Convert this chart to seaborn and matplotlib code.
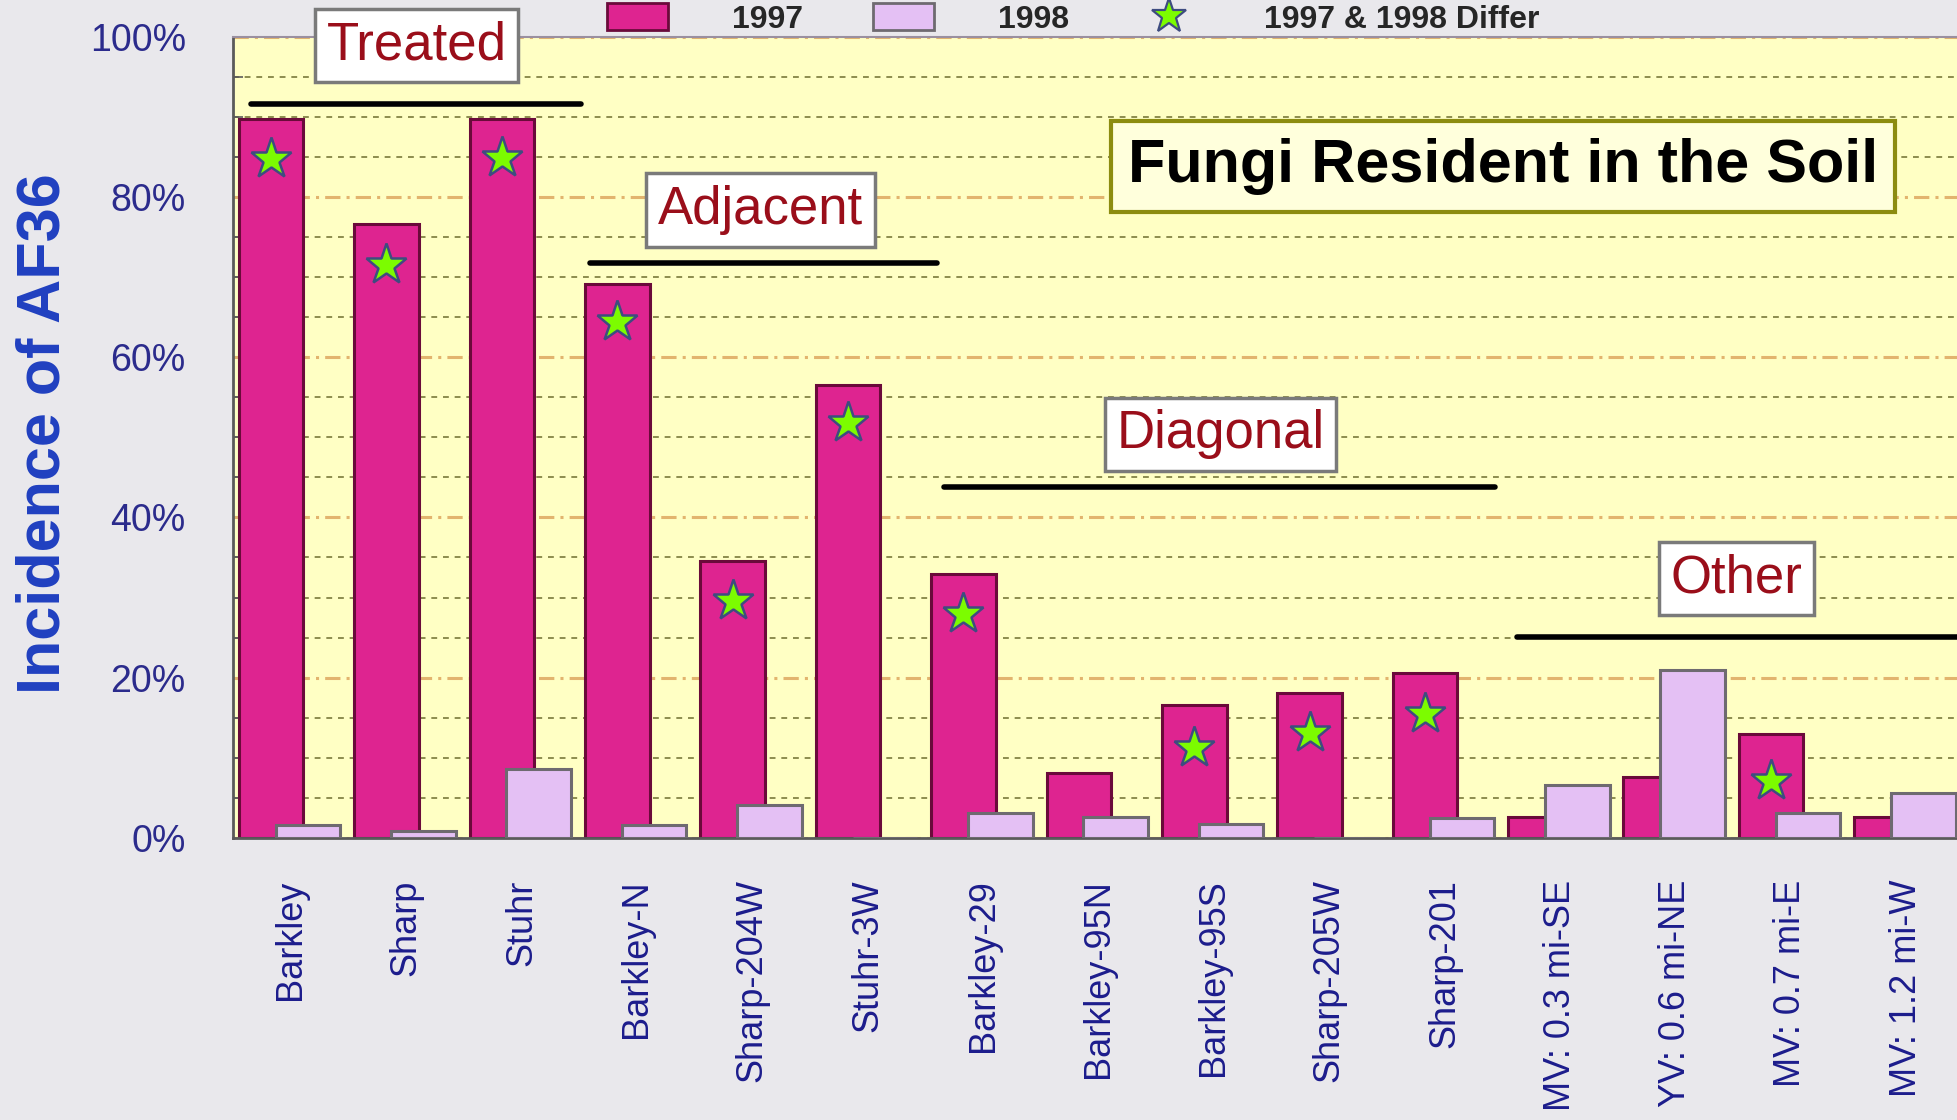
import matplotlib.pyplot as plt
import numpy as np
import pandas as pd
import seaborn as sns
from matplotlib.lines import Line2D
from matplotlib.patches import Patch
from matplotlib.ticker import FuncFormatter, MultipleLocator

SITES = [
    'Barkley', 'Sharp', 'Stuhr', 'Barkley-N', 'Sharp-204W', 'Stuhr-3W',
    'Barkley-29', 'Barkley-95N', 'Barkley-95S', 'Sharp-205W', 'Sharp-201',
    'MV: 0.3 mi-SE', 'YV: 0.6 mi-NE', 'MV: 0.7 mi-E', 'MV: 1.2 mi-W',
]
INC_1997 = [89.7, 76.6, 89.7, 69.1, 34.6, 56.6, 32.9, 8.1, 16.6, 18.1, 20.6,
            2.6, 7.6, 13.0, 2.6]
INC_1998 = [1.6, 0.8, 8.6, 1.6, 4.1, 0.0, 3.1, 2.6, 1.7, 0.0, 2.5,
            6.6, 21.0, 3.1, 5.6]
# star marks: 1997 & 1998 differ
DIFFER = [84.7, 71.5, 84.9, 64.4, 29.6, 51.8, 27.9, np.nan, 11.2, 13.1, 15.5,
          np.nan, np.nan, 7.1, np.nan]
YEARS = ['1997', '1998']
LEGEND_LABELS = ['1997', '1998', '1997 & 1998 Differ']
TITLE = 'Fungi Resident in the Soil'

# group labels: (text, text x, text y, line x0, line x1, line y)
GROUPS = [
    ('Treated', 1.09, 98.9, -0.34, 2.52, 91.6),
    ('Adjacent', 4.07, 78.4, 2.59, 5.60, 71.8),
    ('Diagonal', 8.06, 50.4, 5.66, 10.44, 43.8),
    ('Other', 12.53, 32.4, 10.63, 14.6, 25.1),
]

FILL = {'1997': '#DE2490', '1998': '#E4C0F4'}
EDGE = {'1997': '#6A0A3A', '1998': '#6E6A70'}
OFFSET = {'1997': -0.17, '1998': 0.15}
BAR_W = 0.56
TEXT_BLUE = '#1C1C8C'
LABEL_RED = '#9A0E1A'


def main():
    df = pd.DataFrame({
        'Site': SITES * 2,
        'Incidence': INC_1997 + INC_1998,
        'Year': [YEARS[0]] * len(SITES) + [YEARS[1]] * len(SITES),
    })

    sns.set_theme(style='white')
    plt.rcParams['font.family'] = ['Liberation Sans', 'DejaVu Sans']

    fig = plt.figure(figsize=(19.58, 11.2), dpi=100, facecolor='#E9E8EC')
    ax = fig.add_axes([0.119, 0.252, 0.884, 0.715])
    ax.set_facecolor('#FFFFC4')

    sns.barplot(
        df, x='Site', y='Incidence', hue='Year', hue_order=YEARS,
        palette=FILL, saturation=1, errorbar=None, legend=False, ax=ax,
    )

    # overlapping bars like the original spreadsheet chart
    for year, cont in zip(YEARS, ax.containers):
        for i, bar in enumerate(cont):
            bar.set_width(BAR_W)
            bar.set_x(i + OFFSET[year] - BAR_W / 2)
            bar.set_edgecolor(EDGE[year])
            bar.set_linewidth(2.2)
            bar.set_zorder(3 if year == '1998' else 2)

    differ = np.array(DIFFER)
    mask = ~np.isnan(differ)
    ax.plot(
        np.arange(len(SITES))[mask] + OFFSET['1997'], differ[mask],
        ls='none', marker='*', ms=31, mfc='#7CFC00', mec='#3E4C80', mew=1.8,
        zorder=5,
    )

    ax.set_xlim(-0.5, len(SITES) - 0.5)
    ax.set_ylim(0, 100)
    ax.set_xlabel('')
    ax.set_ylabel('')

    ax.yaxis.set_major_locator(MultipleLocator(20))
    ax.yaxis.set_minor_locator(MultipleLocator(5))
    ax.yaxis.set_major_formatter(FuncFormatter(lambda v, _: f'{v:.0f}%'))
    ax.set_axisbelow(True)
    ax.yaxis.grid(True, which='minor', color='#8C8C4E', ls=(0, (3, 3)), lw=1.4)
    ax.yaxis.grid(True, which='major', color='#E2B46E',
                  ls=(0, (5, 2, 1, 2)), lw=2.2)

    ax.set_xticks(np.arange(len(SITES)))
    ax.set_xticklabels(SITES, rotation=90)
    ax.set_xticks(np.arange(-0.5, len(SITES)), minor=True)
    ax.tick_params(axis='x', which='major', length=0, pad=30, labelsize=26,
                   labelcolor=TEXT_BLUE)
    ax.tick_params(axis='x', which='minor', length=16, width=1.5,
                   color='#5A5A5A', direction='out')
    ax.tick_params(axis='y', which='major', length=16, width=1.5,
                   color='#5A5A5A', direction='out', pad=18, labelsize=27,
                   labelcolor='#2B2B8C')
    ax.tick_params(axis='y', which='minor', length=7, width=1.2,
                   color='#5A5A5A', direction='in', left=True)

    for side in ('left', 'bottom'):
        ax.spines[side].set_color('#5A5A5A')
        ax.spines[side].set_linewidth(2)
    ax.spines['top'].set_color('#9A8FA0')
    ax.spines['top'].set_linewidth(1.5)
    ax.spines['right'].set_visible(False)

    fig.text(0.0225, 0.6125, 'Incidence of AF36', rotation=90, ha='center',
             va='center', fontsize=44, fontweight='bold', color='#2040C0')

    fig.text(0.7676, 0.851, TITLE, ha='center', va='center', fontsize=44,
             fontweight='bold', color='black',
             bbox=dict(boxstyle='square,pad=0.28', fc='#FFFFDC',
                       ec='#8C8C10', lw=3))

    for text, tx, ty, x0, x1, ly in GROUPS:
        ax.plot([x0, x1], [ly, ly], color='black', lw=4, clip_on=False,
                zorder=6)
        ax.text(tx, ty, text, ha='center', va='center', fontsize=38,
                color=LABEL_RED, zorder=7, clip_on=False,
                bbox=dict(boxstyle='square,pad=0.22', fc='white',
                          ec='#7A7A7A', lw=2.5))

    handles = [
        Patch(fc=FILL['1997'], ec=EDGE['1997'], lw=2),
        Patch(fc=FILL['1998'], ec=EDGE['1998'], lw=2),
        Line2D([], [], ls='none', marker='*', ms=26, mfc='#7CFC00',
               mec='#3E4C80', mew=1.6),
    ]
    fig.legend(handles, LEGEND_LABELS, loc='center',
               bbox_to_anchor=(0.548, 0.983), ncol=3, frameon=False,
               borderpad=0, prop={'size': 23, 'weight': 'bold'},
               handlelength=1.9, handleheight=0.9, handletextpad=2.0,
               columnspacing=2.2)

    fig.savefig('out.png', dpi=100, facecolor=fig.get_facecolor())


if __name__ == '__main__':
    main()
